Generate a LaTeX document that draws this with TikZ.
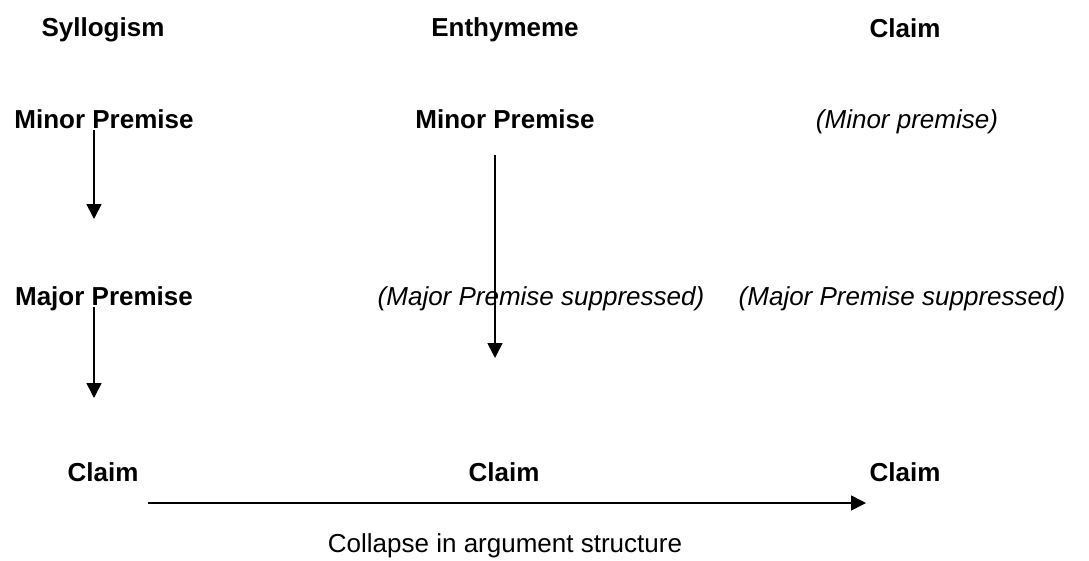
\documentclass[tikz,border=0pt]{standalone}
\usepackage{fontspec}
\setmainfont{Liberation Sans}
\usetikzlibrary{arrows.meta}

\begin{document}
\begin{tikzpicture}[x=1pt,y=-1pt,
	head/.style={font=\bfseries\fontsize{26}{30}\selectfont, anchor=base, inner sep=0pt},
	aside/.style={font=\itshape\fontsize{26}{30}\selectfont, anchor=base, inner sep=0pt},
	plain/.style={font=\fontsize{26}{30}\selectfont, anchor=base, inner sep=0pt},
	link/.style={line width=1.6pt, -{Triangle[length=15pt,width=15pt]}}]
	
	\useasboundingbox (0,0) rectangle (1089,560);
	
	% column titles
	\node[head] (syl) at (103,36) {Syllogism};
	\node[head] (ent) at (505,36) {Enthymeme};
	\node[head] (cla) at (905,37) {Claim};
	
	% premises
	\node[head] (minA) at (104,128) {Minor Premise};
	\node[head] (minB) at (505,128) {Minor Premise};
	\node[aside] (minC) at (907,128) {(Minor premise)};
	
	\node[head] (majA) at (104,305) {Major Premise};
	\node[aside] (majB) at (541,305) {(Major Premise suppressed)};
	\node[aside] (majC) at (902,305) {(Major Premise suppressed)};
	
	% claims
	\node[head] (clA) at (103,481) {Claim};
	\node[head] (clB) at (504,481) {Claim};
	\node[head] (clC) at (905,481) {Claim};
	
	\node[plain] (collapse) at (505,552) {Collapse in argument structure};
	
	% arrow ends
	\coordinate (a1) at (94,130);
	\coordinate (b1) at (94,219);
	\coordinate (a2) at (94,307);
	\coordinate (b2) at (94,398);
	\coordinate (a3) at (495,155);
	\coordinate (b3) at (495,358);
	\coordinate (a4) at (148,503);
	\coordinate (b4) at (866,503);
	
	\draw[link] (a1) -- (b1);
	\draw[link] (a2) -- (b2);
	\draw[link] (a3) -- (b3);
	\draw[link] (a4) -- (b4);
	
\end{tikzpicture}
\end{document}
